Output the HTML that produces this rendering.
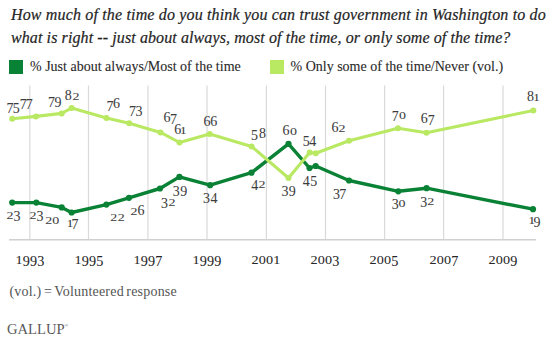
<!DOCTYPE html>
<html><head><meta charset="utf-8"><style>
html,body{margin:0;padding:0;background:#fff;width:556px;height:340px;overflow:hidden}
body{position:relative;font-family:"Liberation Serif",serif}
.t{position:absolute;white-space:nowrap;color:#242424;-webkit-text-stroke:0.2px #242424;font-style:italic;font-size:16px;letter-spacing:0.14px;left:11px}
.lg{position:absolute;white-space:nowrap;color:#2a2a2a;-webkit-text-stroke:0.1px #2a2a2a;font-size:14px}
.sq{position:absolute;width:14px;height:14px;top:60px}
.fn{position:absolute;left:9.5px;white-space:nowrap;color:#555;font-size:14px;letter-spacing:0.2px;word-spacing:-1.2px}
.gal{position:absolute;left:7px;white-space:nowrap;color:#5a5a5a;font-size:14.6px}
svg{position:absolute;left:0;top:0}
</style></head><body>
<div class="t" id="t1" style="top:5.6px;letter-spacing:0.16px">How much of the time do you think you can trust government in Washington to do</div>
<div class="t" id="t2" style="top:29.2px;letter-spacing:0.10px">what is right -- just about always, most of the time, or only some of the time?</div>
<div class="sq" style="left:9px;background:#0a8235"></div>
<div class="lg" id="l1" style="left:30px;top:58.6px">% Just about always/Most of the time</div>
<div class="sq" style="left:270px;background:#b9e862"></div>
<div class="lg" id="l2" style="left:290.5px;top:58.6px">% Only some of the time/Never (vol.)</div>
<svg width="556" height="340" viewBox="0 0 556 340"><rect x="29.20" y="85.5" width="1.2" height="153.5" fill="#dadada"/><rect x="87.90" y="85.5" width="1.2" height="153.5" fill="#dadada"/><rect x="147.30" y="85.5" width="1.2" height="153.5" fill="#dadada"/><rect x="206.40" y="85.5" width="1.2" height="153.5" fill="#dadada"/><rect x="265.80" y="85.5" width="1.2" height="153.5" fill="#dadada"/><rect x="324.90" y="85.5" width="1.2" height="153.5" fill="#dadada"/><rect x="384.00" y="85.5" width="1.2" height="153.5" fill="#dadada"/><rect x="443.00" y="85.5" width="1.2" height="153.5" fill="#dadada"/><rect x="502.40" y="85.5" width="1.2" height="153.5" fill="#dadada"/><rect x="9" y="239" width="527" height="1" fill="#d0d0d0"/><rect x="9" y="240" width="527" height="1" fill="#e6e6e6"/><polyline points="12.2,202.6 36.3,202.6 61.7,207.4 71.6,212.5 106.4,204.6 129,197.8 160,188.5 179.4,176.9 210.1,185.2 251.5,172.7 288.5,143.8 309.5,168 315.7,166 349,180.5 398.3,191.3 426.6,188.2 533,209.2" fill="none" stroke="#0a8235" stroke-width="3.4" stroke-linejoin="round" stroke-linecap="round"/><circle cx="12.2" cy="202.6" r="3.1" fill="#0a8235"/><circle cx="36.3" cy="202.6" r="3.1" fill="#0a8235"/><circle cx="61.7" cy="207.4" r="3.1" fill="#0a8235"/><circle cx="71.6" cy="212.5" r="3.1" fill="#0a8235"/><circle cx="106.4" cy="204.6" r="3.1" fill="#0a8235"/><circle cx="129" cy="197.8" r="3.1" fill="#0a8235"/><circle cx="160" cy="188.5" r="3.1" fill="#0a8235"/><circle cx="179.4" cy="176.9" r="3.1" fill="#0a8235"/><circle cx="210.1" cy="185.2" r="3.1" fill="#0a8235"/><circle cx="251.5" cy="172.7" r="3.1" fill="#0a8235"/><circle cx="288.5" cy="143.8" r="3.1" fill="#0a8235"/><circle cx="309.5" cy="168" r="3.1" fill="#0a8235"/><circle cx="315.7" cy="166" r="3.1" fill="#0a8235"/><circle cx="349" cy="180.5" r="3.1" fill="#0a8235"/><circle cx="398.3" cy="191.3" r="3.1" fill="#0a8235"/><circle cx="426.6" cy="188.2" r="3.1" fill="#0a8235"/><circle cx="533" cy="209.2" r="3.1" fill="#0a8235"/><polyline points="12.2,118.8 36,116.4 61.7,113.4 71.6,108 106.4,117.9 129.2,123.3 160.5,132.4 179.5,142.5 209.7,133.9 251.6,146.4 288.5,178 309.7,152.6 315.8,153.2 349,140.7 398,128.2 426.5,132.7 533.3,110.5" fill="none" stroke="#b9e862" stroke-width="3.1" stroke-linejoin="round" stroke-linecap="round"/><circle cx="12.2" cy="118.8" r="3.0" fill="#b9e862"/><circle cx="36" cy="116.4" r="3.0" fill="#b9e862"/><circle cx="61.7" cy="113.4" r="3.0" fill="#b9e862"/><circle cx="71.6" cy="108" r="3.0" fill="#b9e862"/><circle cx="106.4" cy="117.9" r="3.0" fill="#b9e862"/><circle cx="129.2" cy="123.3" r="3.0" fill="#b9e862"/><circle cx="160.5" cy="132.4" r="3.0" fill="#b9e862"/><circle cx="179.5" cy="142.5" r="3.0" fill="#b9e862"/><circle cx="209.7" cy="133.9" r="3.0" fill="#b9e862"/><circle cx="251.6" cy="146.4" r="3.0" fill="#b9e862"/><circle cx="288.5" cy="178" r="3.0" fill="#b9e862"/><circle cx="309.7" cy="152.6" r="3.0" fill="#b9e862"/><circle cx="315.8" cy="153.2" r="3.0" fill="#b9e862"/><circle cx="349" cy="140.7" r="3.0" fill="#b9e862"/><circle cx="398" cy="128.2" r="3.0" fill="#b9e862"/><circle cx="426.5" cy="132.7" r="3.0" fill="#b9e862"/><circle cx="533.3" cy="110.5" r="3.0" fill="#b9e862"/><g font-family="Liberation Serif" font-size="14.0" fill="#3c3c3c" stroke="#3c3c3c" stroke-width="0.05"><text transform="translate(10.10 112.90) scale(1 1.032)" text-anchor="middle">7</text><text transform="translate(16.20 112.90) scale(1 1.032)" text-anchor="middle">5</text><text transform="translate(23.30 109.45) scale(1 1.032)" text-anchor="middle">7</text><text transform="translate(29.20 109.45) scale(1 1.032)" text-anchor="middle">7</text><text transform="translate(51.40 106.55) scale(1 1.032)" text-anchor="middle">7</text><text transform="translate(58.00 106.55) scale(1 1.032)" text-anchor="middle">9</text><text transform="translate(68.20 99.90) scale(1 0.992)" text-anchor="middle">8</text><text transform="translate(75.90 99.90) scale(1 0.800)" text-anchor="middle">2</text><text transform="translate(110.00 110.65) scale(1 1.032)" text-anchor="middle">7</text><text transform="translate(116.50 108.45) scale(1 0.992)" text-anchor="middle">6</text><text transform="translate(132.40 116.00) scale(1 1.032)" text-anchor="middle">7</text><text transform="translate(139.00 116.00) scale(1 1.032)" text-anchor="middle">3</text><text transform="translate(166.90 121.95) scale(1 0.992)" text-anchor="middle">6</text><text transform="translate(173.50 124.15) scale(1 1.032)" text-anchor="middle">7</text><text transform="translate(177.70 133.85) scale(1 0.992)" text-anchor="middle">6</text><text transform="translate(183.20 133.85) scale(1 0.800)" text-anchor="middle">1</text><text transform="translate(206.90 125.55) scale(1 0.992)" text-anchor="middle">6</text><text transform="translate(213.80 125.55) scale(1 0.992)" text-anchor="middle">6</text><text transform="translate(254.50 140.25) scale(1 1.032)" text-anchor="middle">5</text><text transform="translate(262.40 138.05) scale(1 0.992)" text-anchor="middle">8</text><text transform="translate(284.90 195.70) scale(1 1.032)" text-anchor="middle">3</text><text transform="translate(292.30 195.70) scale(1 1.032)" text-anchor="middle">9</text><text transform="translate(306.30 146.15) scale(1 1.032)" text-anchor="middle">5</text><text transform="translate(312.80 146.15) scale(1 1.032)" text-anchor="middle">4</text><text transform="translate(334.90 131.60) scale(1 0.992)" text-anchor="middle">6</text><text transform="translate(341.90 131.60) scale(1 0.800)" text-anchor="middle">2</text><text transform="translate(395.30 120.95) scale(1 1.032)" text-anchor="middle">7</text><text transform="translate(402.60 118.75) scale(1 0.800)" text-anchor="middle">0</text><text transform="translate(424.30 122.95) scale(1 0.992)" text-anchor="middle">6</text><text transform="translate(431.30 125.15) scale(1 1.032)" text-anchor="middle">7</text><text transform="translate(530.40 100.65) scale(1 0.992)" text-anchor="middle">8</text><text transform="translate(536.50 100.65) scale(1 0.800)" text-anchor="middle">1</text><text transform="translate(10.00 218.60) scale(1 0.800)" text-anchor="middle">2</text><text transform="translate(16.90 220.80) scale(1 1.032)" text-anchor="middle">3</text><text transform="translate(32.90 218.60) scale(1 0.800)" text-anchor="middle">2</text><text transform="translate(40.00 220.80) scale(1 1.032)" text-anchor="middle">3</text><text transform="translate(48.70 223.70) scale(1 0.800)" text-anchor="middle">2</text><text transform="translate(55.80 223.70) scale(1 0.800)" text-anchor="middle">0</text><text transform="translate(70.10 227.15) scale(1 0.800)" text-anchor="middle">1</text><text transform="translate(75.00 229.35) scale(1 1.032)" text-anchor="middle">7</text><text transform="translate(113.80 221.10) scale(1 0.800)" text-anchor="middle">2</text><text transform="translate(121.30 221.10) scale(1 0.800)" text-anchor="middle">2</text><text transform="translate(134.00 215.15) scale(1 0.800)" text-anchor="middle">2</text><text transform="translate(140.90 215.15) scale(1 0.992)" text-anchor="middle">6</text><text transform="translate(164.50 207.70) scale(1 1.032)" text-anchor="middle">3</text><text transform="translate(171.90 205.50) scale(1 0.800)" text-anchor="middle">2</text><text transform="translate(176.30 195.75) scale(1 1.032)" text-anchor="middle">3</text><text transform="translate(183.70 195.75) scale(1 1.032)" text-anchor="middle">9</text><text transform="translate(206.50 202.65) scale(1 1.032)" text-anchor="middle">3</text><text transform="translate(214.00 202.65) scale(1 1.032)" text-anchor="middle">4</text><text transform="translate(254.70 190.15) scale(1 1.032)" text-anchor="middle">4</text><text transform="translate(262.10 187.95) scale(1 0.800)" text-anchor="middle">2</text><text transform="translate(286.10 135.20) scale(1 0.992)" text-anchor="middle">6</text><text transform="translate(293.40 135.20) scale(1 0.800)" text-anchor="middle">0</text><text transform="translate(306.30 186.35) scale(1 1.032)" text-anchor="middle">4</text><text transform="translate(313.80 186.35) scale(1 1.032)" text-anchor="middle">5</text><text transform="translate(336.50 198.95) scale(1 1.032)" text-anchor="middle">3</text><text transform="translate(342.70 198.95) scale(1 1.032)" text-anchor="middle">7</text><text transform="translate(395.20 208.80) scale(1 1.032)" text-anchor="middle">3</text><text transform="translate(402.00 206.60) scale(1 0.800)" text-anchor="middle">0</text><text transform="translate(423.80 207.15) scale(1 1.032)" text-anchor="middle">3</text><text transform="translate(430.70 204.95) scale(1 0.800)" text-anchor="middle">2</text><text transform="translate(531.80 224.45) scale(1 0.800)" text-anchor="middle">1</text><text transform="translate(537.00 226.65) scale(1 1.032)" text-anchor="middle">9</text></g><g font-family="Liberation Serif" font-size="14.2" fill="#262626" stroke="#262626" stroke-width="0.05"><text transform="translate(19.12 263.50) scale(1 0.842)" text-anchor="middle">1</text><text transform="translate(26.38 265.50) scale(1 1.053)" text-anchor="middle">9</text><text transform="translate(33.62 265.50) scale(1 1.053)" text-anchor="middle">9</text><text transform="translate(40.88 265.50) scale(1 1.053)" text-anchor="middle">3</text><text transform="translate(78.12 263.50) scale(1 0.842)" text-anchor="middle">1</text><text transform="translate(85.38 265.50) scale(1 1.053)" text-anchor="middle">9</text><text transform="translate(92.62 265.50) scale(1 1.053)" text-anchor="middle">9</text><text transform="translate(99.88 265.50) scale(1 1.053)" text-anchor="middle">5</text><text transform="translate(137.12 263.50) scale(1 0.842)" text-anchor="middle">1</text><text transform="translate(144.38 265.50) scale(1 1.053)" text-anchor="middle">9</text><text transform="translate(151.62 265.50) scale(1 1.053)" text-anchor="middle">9</text><text transform="translate(158.88 265.50) scale(1 1.053)" text-anchor="middle">7</text><text transform="translate(196.12 263.50) scale(1 0.842)" text-anchor="middle">1</text><text transform="translate(203.38 265.50) scale(1 1.053)" text-anchor="middle">9</text><text transform="translate(210.62 265.50) scale(1 1.053)" text-anchor="middle">9</text><text transform="translate(217.88 265.50) scale(1 1.053)" text-anchor="middle">9</text><text transform="translate(255.12 263.50) scale(1 0.842)" text-anchor="middle">2</text><text transform="translate(262.38 263.50) scale(1 0.842)" text-anchor="middle">0</text><text transform="translate(269.62 263.50) scale(1 0.842)" text-anchor="middle">0</text><text transform="translate(276.88 263.50) scale(1 0.842)" text-anchor="middle">1</text><text transform="translate(314.12 263.50) scale(1 0.842)" text-anchor="middle">2</text><text transform="translate(321.38 263.50) scale(1 0.842)" text-anchor="middle">0</text><text transform="translate(328.62 263.50) scale(1 0.842)" text-anchor="middle">0</text><text transform="translate(335.88 265.50) scale(1 1.053)" text-anchor="middle">3</text><text transform="translate(373.12 263.50) scale(1 0.842)" text-anchor="middle">2</text><text transform="translate(380.38 263.50) scale(1 0.842)" text-anchor="middle">0</text><text transform="translate(387.62 263.50) scale(1 0.842)" text-anchor="middle">0</text><text transform="translate(394.88 265.50) scale(1 1.053)" text-anchor="middle">5</text><text transform="translate(433.12 263.50) scale(1 0.842)" text-anchor="middle">2</text><text transform="translate(440.38 263.50) scale(1 0.842)" text-anchor="middle">0</text><text transform="translate(447.62 263.50) scale(1 0.842)" text-anchor="middle">0</text><text transform="translate(454.88 265.50) scale(1 1.053)" text-anchor="middle">7</text><text transform="translate(492.12 263.50) scale(1 0.842)" text-anchor="middle">2</text><text transform="translate(499.38 263.50) scale(1 0.842)" text-anchor="middle">0</text><text transform="translate(506.62 263.50) scale(1 0.842)" text-anchor="middle">0</text><text transform="translate(513.88 265.50) scale(1 1.053)" text-anchor="middle">9</text></g></svg>
<div class="fn" id="fn" style="top:283.6px">(vol.) = Volunteered response</div>
<div class="gal" id="gal" style="top:320.5px">GALLUP<span style="font-size:5px;vertical-align:top;position:relative;top:2px">&reg;</span></div>
</body></html>
